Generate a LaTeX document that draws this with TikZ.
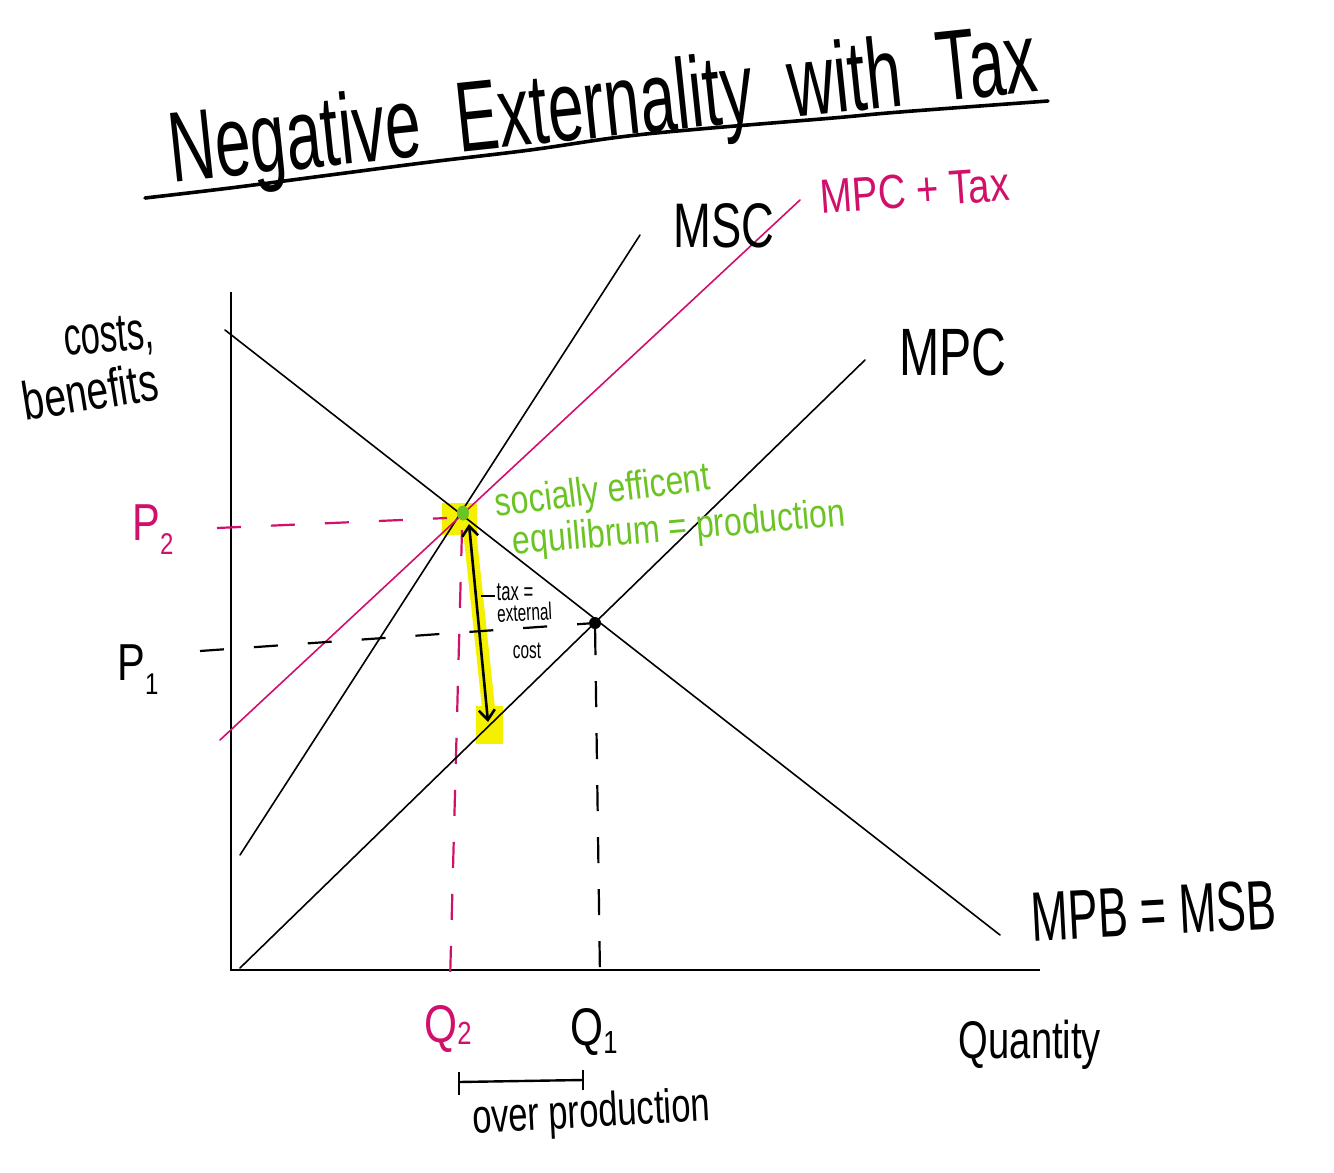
\documentclass[tikz,border=0pt]{standalone}
\usepackage{fontspec}
\setmainfont{Liberation Sans}
\newfontfamily\fA{Liberation Sans}[FakeStretch=0.64]
\newfontfamily\fB{Liberation Sans}[FakeStretch=0.72]
\newfontfamily\fC{Liberation Sans}[FakeStretch=0.8]
\usetikzlibrary{arrows.meta,calc,shapes.geometric}
\definecolor{mag}{HTML}{D0106A}
\definecolor{grn}{HTML}{6CC424}
\definecolor{hl}{HTML}{F5F000}
\newcommand{\fs}[1]{\fontsize{#1}{#1}\selectfont}
\begin{document}
\begin{tikzpicture}[x=1pt,y=-1pt,
  curve/.style={line width=1.6pt, line cap=round},
  axis/.style={line width=2.2pt},
  guide/.style={line width=2.2pt, dash pattern=on 24pt off 30pt},
  vguide/.style={line width=2.2pt, dash pattern=on 26pt off 26pt},
  lbl/.style={inner sep=0pt, anchor=base},
  dotmark/.style={circle, inner sep=0pt, minimum size=12pt}]
\useasboundingbox (0,0) rectangle (1334,1173);
\fill[white] (0,0) rectangle (1334,1173);

% highlights
\fill[hl] (442,503) rectangle (477,535);
\fill[hl] (476,706) rectangle (503,744);
\draw[hl, line width=13pt] (469,525) -- (490,722);

% coordinates
\coordinate (O) at (231,970);
\coordinate (Ytop) at (231,292);
\coordinate (Xend) at (1040,970);
\coordinate (D1) at (225,330);
\coordinate (D2) at (1000,935);
\coordinate (S1) at (240,968);
\coordinate (S2) at (865,360);
\coordinate (M1) at (240,855);
\coordinate (M2) at (640,235);
\coordinate (T1) at (220,740);
\coordinate (T2) at (800,200);
\coordinate (P2a) at (217,528);
\coordinate (P2b) at (447,518);
\coordinate (P1a) at (200,651);
\coordinate (Q2a) at (462,530);
\coordinate (Q2b) at (450,982);
\coordinate (Q1b) at (600,976);
\coordinate (Atop) at (469,524);
\coordinate (Abot) at (488,722);

% axes
\draw[axis] (Ytop) -- (O) -- (Xend);

% guides
\draw[guide, mag] (P2a) -- (P2b);
\draw[vguide, mag] (Q2a) -- (Q2b);

% curves
\draw[curve] (D1) -- (D2);
\draw[curve] (S1) -- (S2);
\draw[curve] (M1) -- (M2);
\draw[curve, mag] (T1) -- (T2);

% points
\node[ellipse, inner sep=0pt, fill=grn, minimum width=12pt, minimum height=15pt] (E2) at (463,513) {};
\node[dotmark, fill=black] (E1) at (595,623) {};
\draw[guide] (P1a) -- (E1);
\draw[vguide] (E1) -- (Q1b);

% tax arrow
\draw[line width=2.6pt, {Straight Barb[length=10pt,width=16pt]}-{Straight Barb[length=10pt,width=16pt]}] (Atop) -- (Abot);
\coordinate (tk1) at (481,596);
\coordinate (tk2) at (495,596);
\draw[line width=1.8pt] (tk1) -- (tk2);
\node[lbl] (tx1) at (515,600) {\fA\fs{26}tax =};
\node[lbl, rotate=3] (tx2) at (525,621) {\fA\fs{24}external};
\node[lbl] (tx3) at (527,658) {\fA\fs{24}cost};

% title
\node[lbl, rotate=6] (title) at (606,137) {\fA\fs{100}Negative\ \ Externality\ \ with\ \ Tax};
\draw[line width=3.6pt, line cap=round] plot[smooth, tension=0.6] coordinates {(145,198) (230,188) (330,175) (430,162) (530,150) (620,137) (700,129) (833,118) (900,112) (1048,101)};

% curve labels
\node[lbl] (lMSC) at (724,247) {\fB\fs{63}MSC};
\node[lbl, rotate=4, text=mag] (lTax) at (916,207) {\fC\fs{48}MPC + Tax};
\node[lbl] (lMPC) at (953,375) {\fB\fs{67}MPC};
\node[lbl, rotate=3] (lMPB) at (1155,935) {\fA\fs{70}MPB = MSB};
\node[lbl] (lQ) at (1030,1058) {\fB\fs{53}Quantity};
\node[lbl, rotate=5] (lcost) at (110,352) {\fA\fs{54}costs,};
\node[lbl, rotate=9] (lben) at (93,410) {\fB\fs{54}benefits};

% price / quantity labels
\node[lbl, text=mag] (lP2) at (153,540) {\fC\fs{52}P\raisebox{-14pt}{\fs{30}2}};
\node[lbl] (lP1) at (138,680) {\fC\fs{52}P\raisebox{-14pt}{\fs{30}1}};
\node[lbl, text=mag] (lQ2) at (448,1042) {\fC\fs{53}Q\raisebox{-2pt}{\fs{32}2}};
\node[lbl] (lQ1) at (594,1045) {\fC\fs{53}Q\raisebox{-8pt}{\fs{32}1}};

% overproduction bracket
\coordinate (B1) at (459,1082);
\coordinate (B2) at (583,1080);
\draw[line width=2.4pt] (B1) -- (B2);
\draw[line width=2.4pt] ($(B1)+(0,-10)$) -- ($(B1)+(0,13)$);
\draw[line width=2.4pt] ($(B2)+(0,-10)$) -- ($(B2)+(0,10)$);
\node[lbl, rotate=3] (lover) at (592,1127) {\fB\fs{48}over production};

% green text
\node[lbl, rotate=7, text=grn] (g1) at (604,503) {\fC\fs{40}socially efficent};
\node[lbl, rotate=5, text=grn] (g2) at (680,540) {\fC\fs{40}equilibrum = production};
\end{tikzpicture}
\end{document}
